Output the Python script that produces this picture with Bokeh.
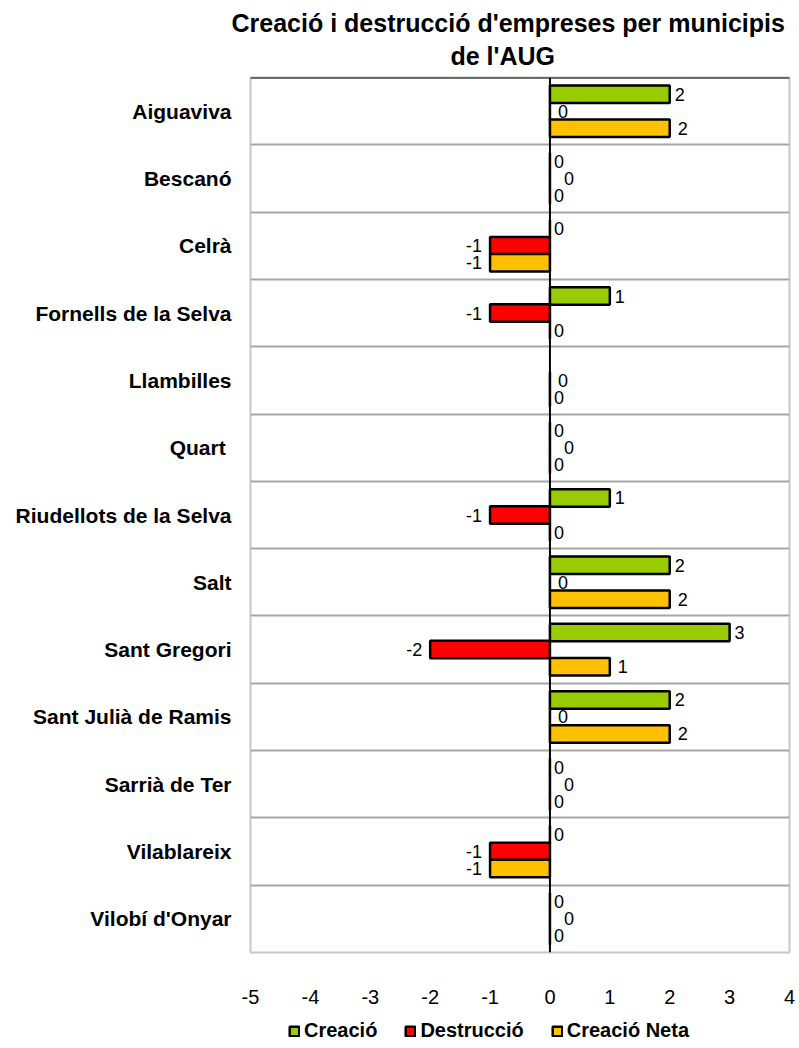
import numpy as np
from bokeh.plotting import figure
from bokeh.layouts import column
from bokeh.models import Range1d, FixedTicker, Span, Title, ColumnDataSource, Legend, LegendItem
from bokeh.core.properties import value
from bokeh.embed import file_html
from bokeh.resources import INLINE

# ---- data ----
municipis = ["Aiguaviva", "Bescanó", "Celrà", "Fornells de la Selva", "Llambilles",
             "Quart ", "Riudellots de la Selva", "Salt", "Sant Gregori",
             "Sant Julià de Ramis", "Sarrià de Ter", "Vilablareix", "Vilobí d'Onyar"]
creacio = [2, 0, 0, 1, None, 0, 1, 2, 3, 2, 0, 0, 0]
destruccio = [0, 0, -1, -1, 0, 0, -1, 0, -2, 0, 0, -1, 0]
neta = [2, 0, -1, 0, 0, 0, 0, 2, 1, 2, 0, -1, 0]
series_names = ["Creació", "Destrucció", "Creació Neta"]
series_colors = ["#99CC00", "#FF0000", "#FFC000"]
x_ticks = [-5, -4, -3, -2, -1, 0, 1, 2, 3, 4]

FONT = "Liberation Sans"
n = len(municipis)
centers = [n - i - 0.5 for i in range(n)]
dodges = [0.253, 0.0, -0.253]

p = figure(width=797, height=1014, output_backend="svg", toolbar_location=None,
           x_range=Range1d(-5, 4), y_range=Range1d(0, n),
           min_border_left=250, min_border_right=8, min_border_top=77, min_border_bottom=62)

p.title.text = "Creació i destrucció d'empreses per municipis"
p.title.align = "left"
p.title.offset = -19
p.title.text_font = FONT
p.title.text_font_size = "25px"
p.title.text_font_style = "bold"
p.title.text_color = "black"
p.title.standoff = -10
p.add_layout(Title(text="de l'AUG", align="left", offset=200, text_font=FONT,
                   text_font_size="25px", text_font_style="bold", text_color="black",
                   standoff=16), "above")

lab_x, lab_y, lab_t, lab_off, lab_align = [], [], [], [], []
for s, (vals, name, col, dy) in enumerate(zip([creacio, destruccio, neta], series_names,
                                               series_colors, dodges)):
    ys = [c + dy for c in centers]
    xs = [np.nan if v is None else v for v in vals]
    src = ColumnDataSource(dict(y=ys, right=xs))
    p.hbar(y="y", left=0, right="right", height=0.26, source=src, fill_color=col,
           line_color="black", line_width=2.5)
    for i, v in enumerate(vals):
        if v is None:
            continue
        lab_x.append(v)
        lab_y.append(ys[i])
        lab_t.append(str(v))
        if v > 0:
            lab_off.append(5 if s == 0 else 8)
            lab_align.append("left")
        elif v < 0:
            lab_off.append(-8)
            lab_align.append("right")
        else:
            if s == 1:
                lab_off.append(14 if creacio[i] == 0 else 8)
            else:
                lab_off.append(4)
            lab_align.append("left")

lsrc = ColumnDataSource(dict(x=lab_x, y=lab_y, t=lab_t, off=lab_off, al=lab_align))
p.text(x="x", y="y", text="t", x_offset="off", text_align="al", text_baseline="middle",
       source=lsrc, text_font=value(FONT), text_font_size="18px", text_color="black")

# grid / frame
p.xgrid.visible = False
p.ygrid.ticker = FixedTicker(ticks=list(range(1, n)))
p.ygrid.grid_line_color = "#a6a6a6"
p.ygrid.grid_line_width = 2
p.outline_line_color = "#c8c8c8"
p.outline_line_width = 2
p.add_layout(Span(location=n, dimension="width", line_color="black", line_width=2))
p.add_layout(Span(location=0, dimension="height", line_color="black", line_width=2))

# axes
p.xaxis.ticker = FixedTicker(ticks=x_ticks)
p.xaxis.major_label_overrides = {t: str(t) for t in x_ticks}
p.xaxis.axis_line_color = None
p.xaxis.major_tick_line_color = None
p.xaxis.minor_tick_line_color = None
p.xaxis.major_tick_out = 0
p.xaxis.major_label_standoff = 37
p.xaxis.major_label_text_font = FONT
p.xaxis.major_label_text_font_size = "20px"
p.xaxis.major_label_text_color = "black"

p.yaxis.ticker = FixedTicker(ticks=centers)
p.yaxis.major_label_overrides = {c: m for c, m in zip(centers, municipis)}
p.yaxis.axis_line_color = None
p.yaxis.major_tick_line_color = None
p.yaxis.minor_tick_line_color = None
p.yaxis.major_tick_out = 0
p.yaxis.major_label_standoff = 19
p.yaxis.major_label_text_font = FONT
p.yaxis.major_label_text_font_size = "21px"
p.yaxis.major_label_text_font_style = "bold"
p.yaxis.major_label_text_color = "black"

# legend (separate strip below the chart; its frame is aligned with the chart frame)
pl = figure(width=797, height=34, output_backend="svg", toolbar_location=None,
            x_range=Range1d(0, 1), y_range=Range1d(0, 1),
            x_axis_location=None, y_axis_location=None,
            min_border_left=250, min_border_right=8, min_border_top=0, min_border_bottom=0)
pl.outline_line_color = None
pl.xgrid.visible = False
pl.ygrid.visible = False
items = []
for name, col in zip(series_names, series_colors):
    r = pl.hbar(y=[np.nan], left=[0], right=[0], height=0.5, fill_color=col,
                line_color="black", line_width=2.5)
    items.append(LegendItem(label=name, renderers=[r]))
lg = Legend(items=items, orientation="horizontal", location=(38, 6),
            border_line_color=None, background_fill_alpha=0, padding=4, margin=0,
            spacing=27, glyph_width=12, glyph_height=12, label_standoff=4,
            label_text_font=FONT, label_text_font_size="20px",
            label_text_font_style="bold", label_text_color="black", label_height=20)
pl.add_layout(lg, "center")

open("out.html", "w").write(file_html(column(p, pl), INLINE))
